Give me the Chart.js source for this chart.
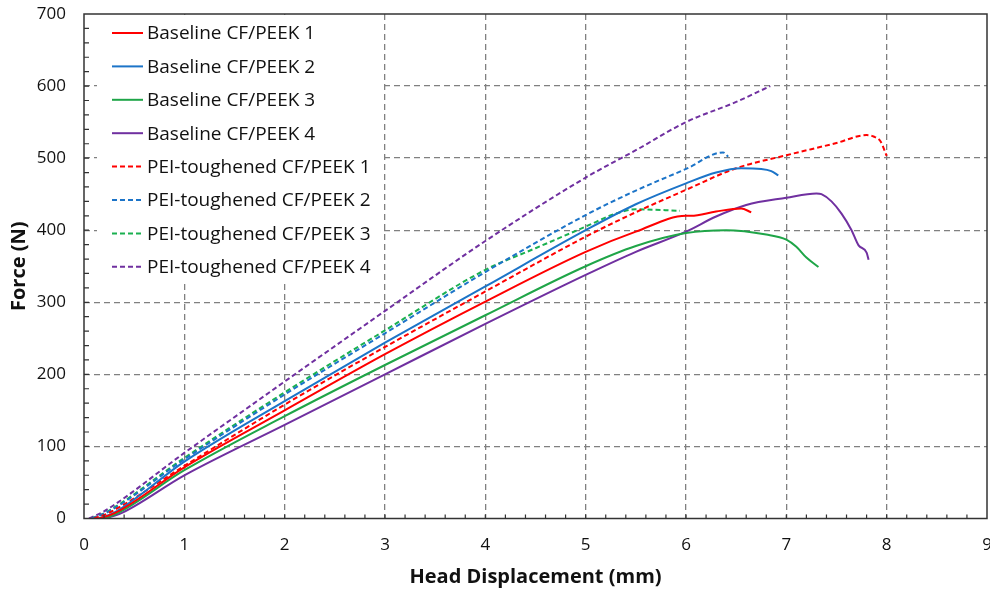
<!DOCTYPE html>
<html>
<head>
<meta charset="utf-8">
<script src="https://cdn.jsdelivr.net/npm/chart.js@4.4.1/dist/chart.umd.min.js"></script>
<style>
html,body{margin:0;padding:0;background:#fff;}
#wrap{width:990px;height:590px;position:relative;}
</style>
</head>
<body>
<div id="wrap"><canvas id="c" width="990" height="590"></canvas></div>
<script>
// ---- data (Head displacement in mm, Force in N) ----
const xTicks = [0,1,2,3,4,5,6,7,8,9];
const yTicks = [0,100,200,300,400,500,600,700];

const seriesNames = [
  'Baseline CF/PEEK 1','Baseline CF/PEEK 2','Baseline CF/PEEK 3','Baseline CF/PEEK 4',
  'PEI-toughened CF/PEEK 1','PEI-toughened CF/PEEK 2','PEI-toughened CF/PEEK 3','PEI-toughened CF/PEEK 4'
];

const b1X = [0.15,0.3,1,2,3,4,5,5.5,6,6.05,6.3,6.55,6.65];
const b1Y = [0,7,71,150,228,301,370,398,420,420,426,430,425];

const b2X = [0.15,0.3,1,2,3,4,5,5.5,6,6.3,6.55,6.75,6.85,6.92];
const b2Y = [0,8,79,163,244,322,400,436,465,480,486,485,482,476];

const b3X = [0.18,0.3,1,2,3,4,5,5.5,6,6.4,6.8,7.0,7.1,7.2,7.32];
const b3Y = [0,5,67,142,213,282,350,378,396,400,394,387,377,362,349];

const b4X = [0.2,0.35,1,2,3,4,5,5.5,6,6.3,6.6,7.0,7.3,7.35,7.45,7.55,7.65,7.72,7.8,7.82];
const b4Y = [0,6,60,130,200,270,338,370,398,419,435,445,451,450,440,423,400,379,369,359];

const p1X = [0.1,0.25,1,2,3,4,5,5.5,6,6.5,7,7.5,7.8,7.87,7.94,8.0];
const p1Y = [0,8,73,158,238,315,391,425,456,486,504,521,532,530,523,503];

const p2X = [0.08,0.25,1,2,3,4,5,5.5,6,6.37,6.42];
const p2Y = [0,10,82,172,257,342,421,455,485,508,502];

const p3X = [0.08,0.25,1,2,3,4,4.5,5,5.3,5.5,5.94];
const p3Y = [0,11,84,175,261,345,375,405,423,429,427];

const p4X = [0.05,0.2,1,2,3,4,5,5.5,6,6.5,6.84];
const p4Y = [0,10,91,190,288,385,473,511,550,578,600];

// ---- build ----
const allX = [b1X,b2X,b3X,b4X,p1X,p2X,p3X,p4X];
const allY = [b1Y,b2Y,b3Y,b4Y,p1Y,p2Y,p3Y,p4Y];
const colors = ['#FF0000','#1C74C8','#1FA548','#7030A0','#FF0000','#1C74C8','#1AB050','#7030A0'];

const datasets = seriesNames.map((name,i)=>({
  label: name,
  data: allX[i].map((x,j)=>({x:x,y:allY[i][j]})),
  borderColor: colors[i],
  backgroundColor: colors[i],
  borderWidth: 2,
  borderDash: i>=4 ? [5,3] : [],
  pointRadius: 0,
  cubicInterpolationMode: 'monotone',
  fill: false
}));

const FONT = '"Open Sans", "Noto Sans", sans-serif';
const AREA = {left:84, top:14, right:987, bottom:518.5};

const framePlugin = {
  id:'frame',
  beforeDatasetsDraw(chart){
    const ctx = chart.ctx;
    // legend box (white, hides grid)
    ctx.save();
    ctx.fillStyle = '#fff';
    ctx.fillRect(97,15,285,269);
    ctx.restore();
  },
  afterDatasetsDraw(chart){
    const ctx = chart.ctx;
    const xs = chart.scales.x, ys = chart.scales.y;
    const a = chart.chartArea;
    ctx.save();
    // legend entries
    ctx.font = '19px ' + FONT;
    ctx.textBaseline = 'middle';
    ctx.fillStyle = '#111';
    chart.data.datasets.forEach((d,i)=>{
      const y = 33 + i*33.4;
      ctx.strokeStyle = d.borderColor;
      ctx.lineWidth = 2;
      ctx.setLineDash(d.borderDash);
      ctx.beginPath(); ctx.moveTo(112,y); ctx.lineTo(143,y); ctx.stroke();
      ctx.setLineDash([]);
      ctx.fillText(d.label,147,y+1);
    });
    // frame
    ctx.strokeStyle = '#333';
    ctx.lineWidth = 1.5;
    ctx.strokeRect(a.left,a.top,a.right-a.left,a.bottom-a.top);
    // minor ticks
    ctx.lineWidth = 1.2;
    ctx.beginPath();
    for(let i=1;i<45;i++){
      const px = xs.getPixelForValue(i/5);
      ctx.moveTo(px,a.bottom); ctx.lineTo(px,a.bottom-4);
    }
    for(let i=1;i<35;i++){
      const py = ys.getPixelForValue(i*20);
      ctx.moveTo(a.left,py); ctx.lineTo(a.left+5,py);
    }
    ctx.stroke();
    ctx.restore();
  }
};

new Chart(document.getElementById('c'),{
  type:'line',
  data:{datasets:datasets},
  plugins:[framePlugin],
  options:{
    responsive:false,
    animation:false,
    layout:{padding:{top:AREA.top,right:990-AREA.right,left:0,bottom:0}},
    plugins:{legend:{display:false},tooltip:{enabled:false}},
    scales:{
      x:{
        type:'linear', min:0, max:9,
        afterBuildTicks(s){ s.ticks = xTicks.map(v=>({value:v})); },
        afterFit(s){ s.height = 590-AREA.bottom; s.paddingLeft=0; s.paddingRight=0; },
        ticks:{font:{family:FONT,size:17},color:'#111',padding:16,maxRotation:0},
        grid:{color:(c)=> (c.tick && (c.tick.value===0||c.tick.value===9)) ? 'rgba(0,0,0,0)' : '#808080', lineWidth:1.3, drawTicks:false},
        border:{display:false,dash:[6,4]},
        title:{display:true,text:'Head Displacement (mm)',font:{family:FONT,size:20,weight:'bold'},color:'#111',padding:{top:0,bottom:1}}
      },
      y:{
        type:'linear', min:0, max:700,
        afterBuildTicks(s){ s.ticks = yTicks.map(v=>({value:v})); },
        afterFit(s){ s.width = AREA.left; s.paddingTop=0; s.paddingBottom=0; },
        ticks:{font:{family:FONT,size:17},color:'#111',padding:18},
        grid:{color:(c)=> (c.tick && (c.tick.value===0||c.tick.value===700)) ? 'rgba(0,0,0,0)' : '#808080', lineWidth:1.3, drawTicks:false},
        border:{display:false,dash:[6,4]},
        title:{display:true,text:'Force (N)',font:{family:FONT,size:20,weight:'bold'},color:'#111',padding:{top:7,bottom:0}}
      }
    }
  }
});
</script>
</body>
</html>
